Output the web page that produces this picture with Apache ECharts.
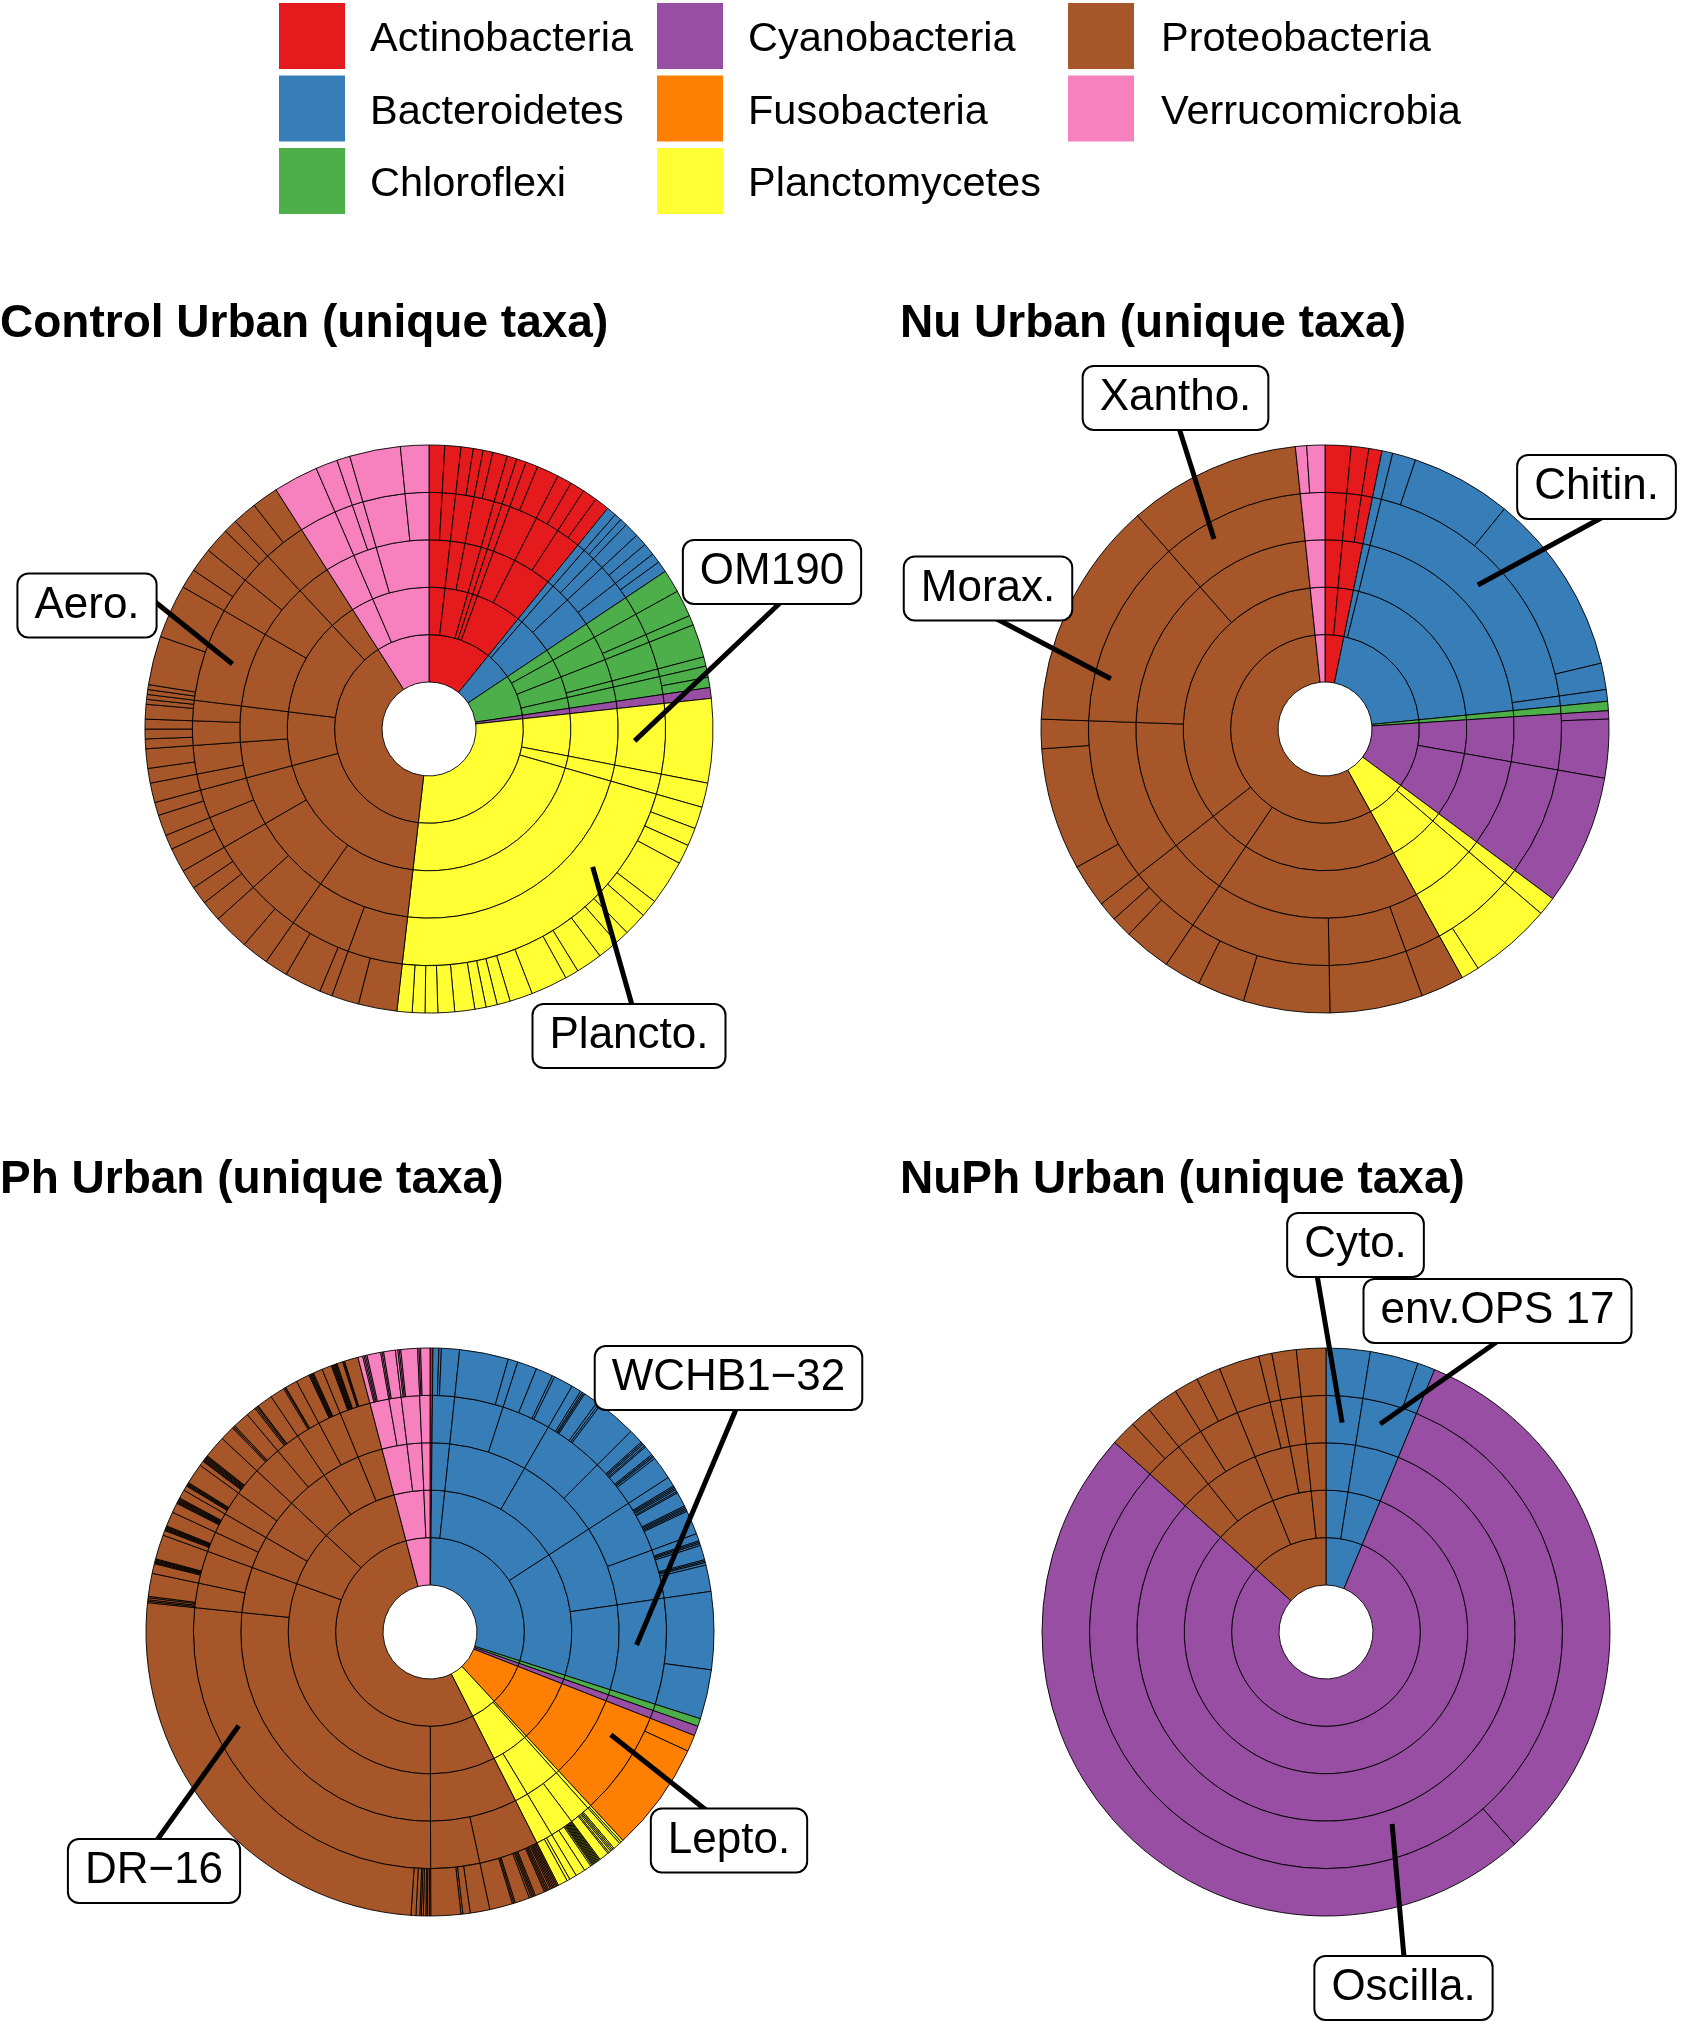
<!DOCTYPE html>
<html>
<head>
<meta charset="UTF-8">
<title>Unique taxa sunbursts</title>
<script src="https://cdn.jsdelivr.net/npm/echarts@6/dist/echarts.min.js"></script>
<style>
  html, body { margin: 0; padding: 0; background: #fff; }
  #main { width: 1682px; height: 2023px; }
</style>
</head>
<body>
<div id="main"></div>
<script>
// phyla in legend / drawing order, with their colours
var phyla = ['Actinobacteria', 'Bacteroidetes', 'Chloroflexi', 'Cyanobacteria',
             'Fusobacteria', 'Planctomycetes', 'Proteobacteria', 'Verrucomicrobia'];
var phylumColors = ['#E41A1C', '#377EB8', '#4DAF4A', '#984EA3',
                    '#FF7F00', '#FFFF33', '#A65628', '#F781BF'];

// rows: [phylum, class #, order #, family #, [genus values]]
var controlRows = [
  ['Actinobacteria', 1, 1, 1, [3.2]],
  ['Actinobacteria', 1, 1, 2, [3.3]],
  ['Actinobacteria', 2, 1, 1, [2.5, 2.0]],
  ['Actinobacteria', 2, 2, 1, [2.0, 3.0]],
  ['Actinobacteria', 3, 1, 1, [2]],
  ['Actinobacteria', 4, 1, 1, [2]],
  ['Actinobacteria', 5, 1, 1, [2.5, 4.5]],
  ['Actinobacteria', 5, 2, 1, [3, 3]],
  ['Actinobacteria', 5, 2, 2, [3, 3]],
  ['Bacteroidetes', 1, 1, 1, [2]],
  ['Bacteroidetes', 2, 1, 1, [1.5, 1.5]],
  ['Bacteroidetes', 2, 1, 2, [3]],
  ['Bacteroidetes', 2, 2, 1, [2.5, 2.5]],
  ['Bacteroidetes', 2, 2, 2, [2, 2.3]],
  ['Chloroflexi', 1, 1, 1, [4.7]],
  ['Chloroflexi', 2, 1, 1, [5.5]],
  ['Chloroflexi', 2, 1, 2, [2]],
  ['Chloroflexi', 3, 1, 1, [6.8]],
  ['Chloroflexi', 3, 2, 1, [1.9]],
  ['Chloroflexi', 4, 1, 1, [2.3, 2.1]],
  ['Cyanobacteria', 1, 1, 1, [2.2]],
  ['Planctomycetes', 1, 1, 1, [17.2]],
  ['Planctomycetes', 2, 1, 1, [5]],
  ['Planctomycetes', 3, 1, 1, [4.5, 3.7, 4, 9.2, 3.6, 4.8, 2.9, 4.3, 5.4, 2.8, 7.5, 4.7, 2.7, 2.3, 2.3, 4.1, 3.4, 2.6, 2.6, 3.1]],
  ['Proteobacteria', 1, 1, 1, [7.9, 5.6]],
  ['Proteobacteria', 1, 1, 2, [2.6, 7.6, 4.8]],
  ['Proteobacteria', 1, 2, 1, [5.6, 7.4]],
  ['Proteobacteria', 1, 2, 2, [4.3, 3.7, 4]],
  ['Proteobacteria', 1, 3, 1, [5, 3]],
  ['Proteobacteria', 1, 3, 2, [4.3, 2.7]],
  ['Proteobacteria', 2, 1, 1, [4]],
  ['Proteobacteria', 2, 1, 2, [3, 4]],
  ['Proteobacteria', 2, 2, 1, [2, 2, 2]],
  ['Proteobacteria', 2, 2, 2, [3, 1, 1]],
  ['Proteobacteria', 3, 1, 1, [1, 1, 10, 11]],
  ['Proteobacteria', 3, 2, 1, [4, 5]],
  ['Proteobacteria', 3, 2, 2, [5.2, 2.8]],
  ['Proteobacteria', 4, 1, 1, [5, 5.4]],
  ['Verrucomicrobia', 1, 1, 1, [9.2]],
  ['Verrucomicrobia', 2, 1, 1, [4.5]],
  ['Verrucomicrobia', 2, 1, 2, [2.7]],
  ['Verrucomicrobia', 2, 2, 1, [10.4]],
  ['Verrucomicrobia', 2, 2, 2, [5.8]]
];

var nuRows = [
  ['Actinobacteria', 1, 1, 1, [5.3]],
  ['Actinobacteria', 2, 1, 1, [3.6]],
  ['Actinobacteria', 2, 1, 2, [2.7]],
  ['Bacteroidetes', 1, 1, 1, [2.2]],
  ['Bacteroidetes', 2, 1, 1, [4.8, 20.6, 37.4, 5.4]],
  ['Bacteroidetes', 2, 1, 2, [2.4]],
  ['Chloroflexi', 1, 1, 1, [1.9]],
  ['Cyanobacteria', 1, 1, 1, [1.7, 12]],
  ['Cyanobacteria', 2, 1, 1, [26.7]],
  ['Planctomycetes', 1, 1, 1, [3.8]],
  ['Planctomycetes', 2, 1, 1, [16.9, 3.7]],
  ['Proteobacteria', 1, 1, 1, [8.9]],
  ['Proteobacteria', 1, 1, 2, [19]],
  ['Proteobacteria', 1, 1, 3, [17.7, 9.7, 7.6]],
  ['Proteobacteria', 2, 1, 1, [9.7, 4.3, 4]],
  ['Proteobacteria', 3, 1, 1, [8.9, 25.1, 6]],
  ['Proteobacteria', 3, 2, 1, [46.7]],
  ['Proteobacteria', 3, 3, 1, [35.3]],
  ['Verrucomicrobia', 1, 1, 1, [2.3, 3.7]]
];

var phRows = [
  ['Actinobacteria', 1, 1, 1, [0.6]],
  ['Bacteroidetes', 1, 1, 1, [1.2, 0.5, 3.7]],
  ['Bacteroidetes', 2, 1, 1, [10, 2]],
  ['Bacteroidetes', 2, 1, 2, [4, 3.5, 0.5, 4]],
  ['Bacteroidetes', 2, 2, 1, [2, 0.4, 0.3, 0.3, 3, 0.5, 0.4, 8.1]],
  ['Bacteroidetes', 2, 2, 2, [3, 0.3, 0.3, 0.4, 0.3, 2, 0.3, 0.3, 0.4, 4.7]],
  ['Bacteroidetes', 3, 1, 1, [2, 0.3, 0.3, 0.3, 0.4, 0.3, 3, 0.3, 0.3, 0.3, 0.3, 4.9]],
  ['Bacteroidetes', 3, 1, 2, [1.5, 0.3, 0.3, 0.4, 3, 0.3, 0.3, 0.5, 5.4]],
  ['Bacteroidetes', 3, 2, 1, [15.9, 10.1]],
  ['Chloroflexi', 1, 1, 1, [1.6]],
  ['Cyanobacteria', 1, 1, 1, [2]],
  ['Fusobacteria', 1, 1, 1, [3.4, 22.4]],
  ['Planctomycetes', 1, 1, 1, [0.5, 0.4]],
  ['Planctomycetes', 2, 1, 1, [1.5, 0.3, 0.3, 0.3, 0.4, 0.3, 2]],
  ['Planctomycetes', 2, 1, 2, [0.2, 0.2, 0.2, 0.2, 0.2, 0.2, 0.2, 0.2, 0.2, 0.2, 0.3, 1.5, 2]],
  ['Planctomycetes', 2, 2, 1, [1.5, 0.6, 2]],
  ['Proteobacteria', 1, 1, 1, [0.3, 0.3, 0.3, 0.3, 0.3, 0.3, 0.4, 0.3, 0.3, 0.3, 2, 0.3, 0.3, 0.3, 0.4, 3, 0.3, 0.3, 4.7]],
  ['Proteobacteria', 1, 1, 2, [4, 1.5, 0.4, 6.1]],
  ['Proteobacteria', 2, 1, 1, [0.3, 0.4, 0.3, 0.5, 0.4, 0.3, 0.8, 1, 92]],
  ['Proteobacteria', 2, 2, 1, [0.3, 0.3, 0.4, 0.3, 4.7]],
  ['Proteobacteria', 2, 2, 2, [2, 0.2, 0.2, 0.2, 0.2, 0.2, 5]],
  ['Proteobacteria', 3, 1, 1, [1, 0.2, 0.2, 0.2, 0.2, 0.2, 3]],
  ['Proteobacteria', 3, 1, 2, [2, 0.2, 0.2, 0.2, 0.2, 0.2, 0.2, 1.8]],
  ['Proteobacteria', 3, 2, 1, [1, 0.2, 0.2, 0.2, 0.2, 4.2]],
  ['Proteobacteria', 3, 2, 2, [1, 0.2, 0.2, 0.2, 0.2, 0.2, 0.2, 0.2, 4.6]],
  ['Proteobacteria', 4, 1, 1, [3, 0.3, 0.3, 3.4]],
  ['Proteobacteria', 4, 1, 2, [2, 0.3, 0.3, 0.2, 3.2]],
  ['Proteobacteria', 4, 2, 1, [3, 0.3, 0.2, 2.5]],
  ['Proteobacteria', 4, 2, 2, [2.8, 0.2, 0.2, 0.2, 0.2, 0.2, 1.9]],
  ['Proteobacteria', 4, 3, 1, [2, 0.2, 0.2, 0.2, 0.2, 0.2, 0.2, 1.2, 0.2, 0.2, 2.8]],
  ['Verrucomicrobia', 1, 1, 1, [1, 0.3, 0.3, 0.3, 2.8]],
  ['Verrucomicrobia', 1, 1, 2, [0.3, 0.3, 2.4]],
  ['Verrucomicrobia', 1, 2, 1, [0.5, 0.3, 0.3, 3.4]],
  ['Verrucomicrobia', 2, 1, 1, [0.3, 0.3, 1.9]]
];

var nuphRows = [
  ['Bacteroidetes', 1, 1, 1, [9]],
  ['Bacteroidetes', 2, 1, 1, [9.9, 3.6]],
  ['Cyanobacteria', 1, 1, 1, [115.9, 173.5]],
  ['Proteobacteria', 1, 1, 1, [5.2, 4.4]],
  ['Proteobacteria', 1, 2, 1, [6.5]],
  ['Proteobacteria', 1, 2, 2, [5, 5]],
  ['Proteobacteria', 2, 1, 1, [8.3]],
  ['Proteobacteria', 2, 1, 2, [2.7]],
  ['Proteobacteria', 2, 2, 1, [5]],
  ['Proteobacteria', 3, 1, 1, [6]]
];

// labels: [text, box centre x, y, line start x, y, anchor angle (deg from 12 o'clock), anchor radius]
var controlNotes = [
  ['Aero.', 87, 605.5, 154, 601, 288.3, 207],
  ['OM190', 772, 572, 781, 602, 93.3, 206],
  ['Plancto.', 629, 1036, 632, 1005, 130.1, 214]
];
var nuNotes = [
  ['Xantho.', 1175.5, 398, 1179, 428, 329.7, 220],
  ['Chitin.', 1596.5, 487, 1603, 517, 46.7, 210],
  ['Morax.', 988, 588.5, 993, 617, 283.2, 220]
];
var phNotes = [
  ['WCHB1\u221232', 728.5, 1378, 737, 1407, 93.6, 207],
  ['Lepto.', 729, 1840.5, 706, 1810, 119.6, 208],
  ['DR\u221216', 154, 1871, 157, 1840, 243.9, 213]
];
var nuphNotes = [
  ['Cyto.', 1355.5, 1245, 1317, 1275, 4.4, 210],
  ['env.OPS 17', 1497.5, 1311, 1498, 1341, 14.6, 215],
  ['Oscilla.', 1403.5, 1988, 1404, 1957, 161, 203]
];

var FONT = '"Liberation Sans", Arial, Helvetica, sans-serif';
var R_IN = 47, R_OUT = 284;

var panels = [
  { title: 'Control Urban (unique taxa)', rows: controlRows, notes: controlNotes, center: [429, 729], tx: 0, ty: 324 },
  { title: 'Nu Urban (unique taxa)', rows: nuRows, notes: nuNotes, center: [1325, 729], tx: 900, ty: 324 },
  { title: 'Ph Urban (unique taxa)', rows: phRows, notes: phNotes, center: [430, 1632], tx: 0, ty: 1180 },
  { title: 'NuPh Urban (unique taxa)', rows: nuphRows, notes: nuphNotes, center: [1326, 1632], tx: 900, ty: 1180 }
];

// turn the flat rows into the nested sunburst data
function buildTree(rows) {
  var tree = [];
  function child(list, name, color) {
    for (var i = 0; i < list.length; i++) {
      if (list[i].name === name) return list[i];
    }
    var node = { name: name, itemStyle: { color: color }, children: [] };
    list.push(node);
    return node;
  }
  rows.forEach(function (r) {
    var color = phylumColors[phyla.indexOf(r[0])];
    var p = child(tree, r[0], color);
    var c = child(p.children, r[0] + ' c' + r[1], color);
    var o = child(c.children, c.name + ' o' + r[2], color);
    var f = child(o.children, o.name + ' f' + r[3], color);
    r[4].forEach(function (v, i) {
      f.children.push({ name: f.name + ' g' + (i + 1), value: v, itemStyle: { color: color } });
    });
  });
  return tree;
}

var series = [];
var graphics = [];

panels.forEach(function (p) {
  series.push({
    type: 'sunburst',
    center: p.center,
    radius: [R_IN, R_OUT],
    startAngle: 90,
    clockwise: true,
    sort: null,
    nodeClick: false,
    data: buildTree(p.rows),
    label: { show: false },
    itemStyle: { borderColor: '#000', borderWidth: 0.9 },
    emphasis: { disabled: true }
  });

  graphics.push({
    type: 'text', x: p.tx, y: p.ty, z: 20,
    style: { text: p.title, font: 'bold 46px ' + FONT, fill: '#000', align: 'left', verticalAlign: 'middle' }
  });

  p.notes.forEach(function (n) {
    var a = n[5] * Math.PI / 180;
    var ax = p.center[0] + n[6] * Math.sin(a);
    var ay = p.center[1] - n[6] * Math.cos(a);
    graphics.push({
      type: 'line', z: 20,
      shape: { x1: n[3], y1: n[4], x2: ax, y2: ay },
      style: { stroke: '#000', lineWidth: 5 }
    });
    graphics.push({
      type: 'text', x: n[1], y: n[2], z: 21,
      style: {
        text: n[0], font: '44px ' + FONT, fill: '#000',
        align: 'center', verticalAlign: 'middle',
        backgroundColor: '#fff', borderColor: '#000', borderWidth: 2,
        borderRadius: 10, padding: [11, 16, 7, 16]
      }
    });
  });
});

// legend, three columns filled top to bottom
var legendSwatchX = [279, 657, 1068];
var legendTextX = [370, 748, 1161];
var legendRowY = [3, 75.5, 148];
phyla.forEach(function (name, i) {
  var col = Math.floor(i / 3), row = i % 3;
  graphics.push({
    type: 'rect', z: 20,
    shape: { x: legendSwatchX[col], y: legendRowY[row], width: 66, height: 66 },
    style: { fill: phylumColors[i] }
  });
  graphics.push({
    type: 'text', x: legendTextX[col], y: legendRowY[row] + 37, z: 20,
    style: { text: name, font: '41.5px ' + FONT, fill: '#000', align: 'left', verticalAlign: 'middle' }
  });
});

var chart = echarts.init(document.getElementById('main'));
chart.setOption({
  backgroundColor: '#fff',
  animation: false,
  series: series,
  graphic: { elements: graphics }
});
</script>
</body>
</html>
